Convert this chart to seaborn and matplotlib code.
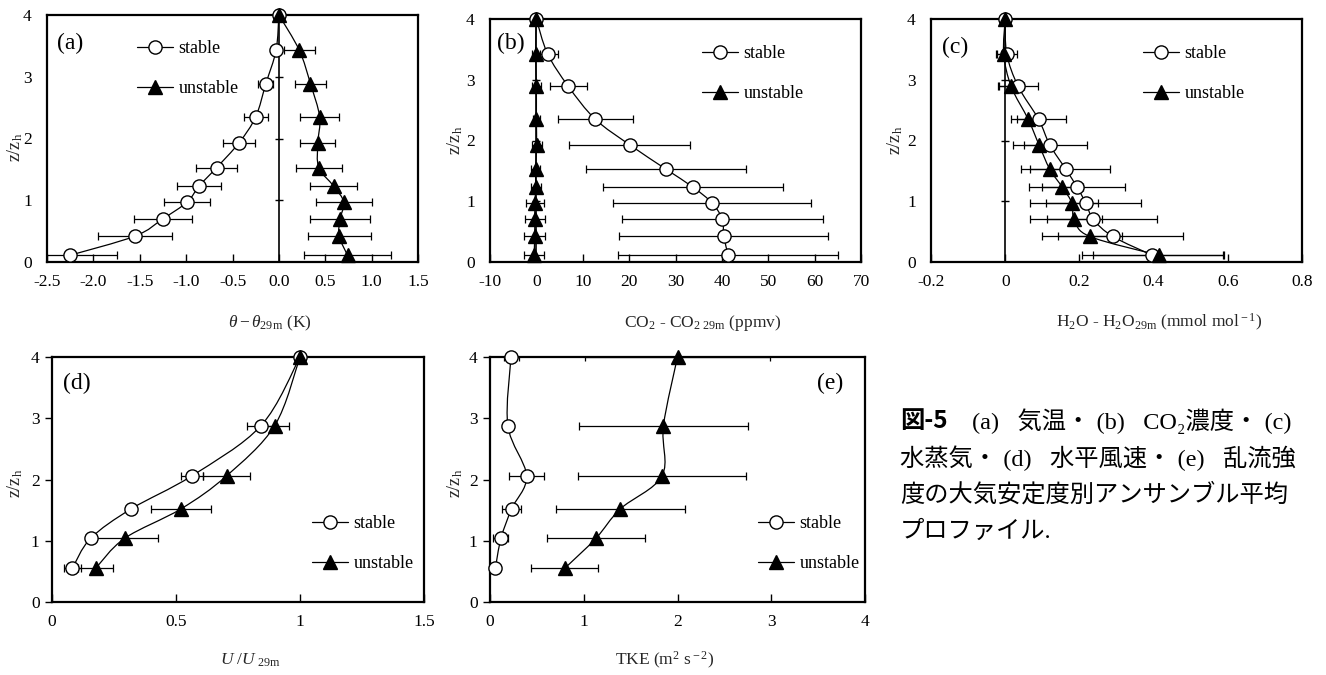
import matplotlib
matplotlib.use("Agg")
import matplotlib.pyplot as plt
from matplotlib.lines import Line2D
from matplotlib.path import Path
from matplotlib.patches import PathPatch
import seaborn as sns

# ---------------------------------------------------------------------------
# Ensemble-mean profiles by stability class (z/zh on the vertical axis)
# ---------------------------------------------------------------------------
z_tower = [4.0, 3.43, 2.89, 2.35, 1.93, 1.53, 1.23, 0.97, 0.70, 0.42, 0.11]
z_sonic = [4.0, 2.88, 2.06, 1.52, 1.04, 0.55]

# (a) potential temperature difference (K)
theta_stable = [0.0, -0.03, -0.14, -0.25, -0.43, -0.67, -0.86, -0.99, -1.25, -1.55, -2.25]
theta_stable_sd = [0.0, 0.04, 0.08, 0.13, 0.17, 0.22, 0.24, 0.25, 0.31, 0.40, 0.51]
theta_unstable = [0.0, 0.22, 0.34, 0.44, 0.42, 0.43, 0.59, 0.70, 0.66, 0.65, 0.74]
theta_unstable_sd = [0.0, 0.17, 0.17, 0.21, 0.19, 0.25, 0.255, 0.30, 0.325, 0.34, 0.47]

# (b) CO2 difference (ppmv)
co2_stable = [0.0, 2.4, 6.9, 12.7, 20.1, 27.9, 33.8, 37.9, 40.1, 40.4, 41.4]
co2_stable_sd = [0.0, 2.2, 3.95, 8.1, 13.1, 17.2, 19.4, 21.4, 21.7, 22.5, 23.7]
co2_unstable = [0.0, -0.15, 0.0, 0.0, 0.05, -0.15, -0.15, -0.3, -0.35, -0.35, -0.5]
co2_unstable_sd = [0.0, 0.9, 1.0, 0.8, 1.1, 1.0, 1.1, 2.0, 2.2, 2.3, 2.2]

# (c) H2O difference (mmol mol-1)
h2o_stable = [0.0, 0.004, 0.035, 0.09, 0.12, 0.163, 0.194, 0.217, 0.238, 0.29, 0.397]
h2o_stable_sd = [0.0, 0.027, 0.053, 0.074, 0.10, 0.12, 0.13, 0.15, 0.17, 0.19, 0.19]
h2o_unstable = [0.0, -0.004, 0.016, 0.062, 0.091, 0.12, 0.154, 0.18, 0.186, 0.228, 0.414]
h2o_unstable_sd = [0.0, 0.02, 0.035, 0.031, 0.041, 0.053, 0.055, 0.07, 0.074, 0.086, 0.177]

# (d) normalised horizontal wind speed
u_stable = [1.0, 0.843, 0.564, 0.319, 0.156, 0.082]
u_stable_sd = [0.0, 0.058, 0.045, 0.02, 0.02, 0.035]
u_unstable = [1.0, 0.898, 0.704, 0.52, 0.293, 0.176]
u_unstable_sd = [0.0, 0.058, 0.094, 0.12, 0.135, 0.07]

# (e) turbulent kinetic energy (m2 s-2)
tke_stable = [0.224, 0.19, 0.39, 0.23, 0.117, 0.057]
tke_stable_sd = [0.08, 0.05, 0.19, 0.10, 0.08, 0.04]
tke_unstable = [2.0, 1.85, 1.835, 1.39, 1.13, 0.797]
tke_unstable_sd = [0.99, 0.90, 0.90, 0.69, 0.52, 0.36]

z_ticks = [0, 1, 2, 3, 4]
z_ticklabels = ["0", "1", "2", "3", "4"]
theta_ticks = [-2.5, -2.0, -1.5, -1.0, -0.5, 0.0, 0.5, 1.0, 1.5]
theta_ticklabels = ["-2.5", "-2.0", "-1.5", "-1.0", "-0.5", "0.0", "0.5", "1.0", "1.5"]
co2_ticks = [-10, 0, 10, 20, 30, 40, 50, 60, 70]
co2_ticklabels = ["-10", "0", "10", "20", "30", "40", "50", "60", "70"]
h2o_ticks = [-0.2, 0.0, 0.2, 0.4, 0.6, 0.8]
h2o_ticklabels = ["-0.2", "0", "0.2", "0.4", "0.6", "0.8"]
u_ticks = [0, 0.5, 1.0, 1.5]
u_ticklabels = ["0", "0.5", "1", "1.5"]
tke_ticks = [0, 1, 2, 3, 4]
tke_ticklabels = ["0", "1", "2", "3", "4"]

caption_head = "図-5"
caption_first = "(a)   気温・ (b)   CO₂濃度・ (c)"
caption_lines = [
    "水蒸気・ (d)   水平風速・ (e)   乱流強",
    "度の大気安定度別アンサンブル平均",
    "プロファイル.",
]

sns.set_theme(style="white")
plt.rcParams.update({
    "font.family": ["Liberation Serif", "Noto Sans CJK JP"],
    "mathtext.fontset": "custom",
    "mathtext.rm": "Liberation Serif",
    "mathtext.it": "Liberation Serif:italic",
    "mathtext.bf": "Liberation Serif:bold",
    "axes.unicode_minus": False,
    "axes.edgecolor": "black",
    "xtick.color": "black",
    "ytick.color": "black",
    "text.color": "black",
})

W, H = 1326, 675
fig = plt.figure(figsize=(W / 100, H / 100), dpi=100)
fig.patch.set_facecolor("white")

MARKERS = {
    "stable": dict(marker="o", markersize=9.5, markerfacecolor="white"),
    "unstable": dict(marker="^", markersize=10, markerfacecolor="black"),
}


def box(l, t, r, b):
    return fig.add_axes([l / W, 1 - b / H, (r - l) / W, (b - t) / H])


def smooth_curve(ax, x, z, w_px, h_px):
    """Spreadsheet-style smoothed connector: cubic Bezier segments through
    the profile points, shaped in screen space and mapped back to data."""
    x0, x1 = ax.get_xlim()
    y0, y1 = ax.get_ylim()
    sx, sy = w_px / (x1 - x0), h_px / (y1 - y0)
    pts = [((xi - x0) * sx, (zi - y0) * sy) for xi, zi in zip(x, z)]
    n = len(pts)
    verts, codes = [pts[0]], [Path.MOVETO]
    for i in range(n - 1):
        pa = pts[i - 1] if i > 0 else pts[i]
        p1, p2 = pts[i], pts[i + 1]
        pb = pts[i + 2] if i + 2 < n else pts[i + 1]
        c1 = (p1[0] + (p2[0] - pa[0]) / 6, p1[1] + (p2[1] - pa[1]) / 6)
        c2 = (p2[0] - (pb[0] - p1[0]) / 6, p2[1] - (pb[1] - p1[1]) / 6)
        verts += [c1, c2, p2]
        codes += [Path.CURVE4] * 3
    verts = [(vx / sx + x0, vy / sy + y0) for vx, vy in verts]
    ax.add_patch(PathPatch(Path(verts, codes), fill=False, ec="black",
                           lw=0.9, zorder=2.5))


def draw_profile(ax, x, err, z, kind, w_px, h_px):
    ax.errorbar(x, z, xerr=err, fmt="none", ecolor="black", elinewidth=0.9,
                capsize=3, capthick=0.9, zorder=2)
    smooth_curve(ax, x, z, w_px, h_px)
    sns.lineplot(x=x, y=z, sort=False, estimator=None, color="black",
                 linestyle="none", markeredgecolor="black",
                 markeredgewidth=1.0, ax=ax, zorder=3, clip_on=False,
                 legend=False, **MARKERS[kind])


def setup(ax, box_px, xt, xtl, zero_axis, tag, tag_px, leg_px,
          xlabel, xlabel_px, ylabel_px):
    l, t, r, b = box_px
    w, h = r - l, b - t
    ax.set_xticks(xt)
    ax.set_xticklabels(xtl, fontsize=12.5)
    ax.set_yticks(z_ticks)
    ax.set_yticklabels(z_ticklabels, fontsize=12.5)
    for s in ax.spines.values():
        s.set_linewidth(1.6)
        s.set_color("black")
    ax.tick_params(axis="x", direction="in", length=6, width=1, pad=9,
                   bottom=True, top=False)
    if zero_axis:
        ax.tick_params(axis="y", length=0, pad=11)
        ax.axvline(0, color="black", lw=1.2, zorder=1)
        ax.plot([0] * len(z_ticks), z_ticks, ls="none", marker="_",
                markersize=6, mew=1, color="black", zorder=1)
    else:
        ax.tick_params(axis="y", direction="out", length=5, width=1, pad=4,
                       left=True)
    ax.set_xlabel(xlabel, fontsize=12.5)
    ax.xaxis.set_label_coords((xlabel_px[0] - l) / w, -(xlabel_px[1] - b) / h)
    ax.xaxis.label.set_va("center")
    ax.set_ylabel(r"z/z$_{\rm h}$", fontsize=13)
    ax.yaxis.set_label_coords((ylabel_px[0] - l) / w, 1 - (ylabel_px[1] - t) / h)
    ax.yaxis.label.set_va("center")
    ax.text((tag_px[0] - l) / w, 1 - (tag_px[1] - t) / h, tag,
            transform=ax.transAxes, fontsize=17, ha="left", va="center")
    handles = [Line2D([], [], color="black", lw=0.9, markeredgecolor="black",
                      markeredgewidth=1.0, **MARKERS[k])
               for k in ("stable", "unstable")]
    ax.legend(handles, ["stable", "unstable"], loc="upper left",
              bbox_to_anchor=((leg_px[0] - l) / w, 1 - (leg_px[1] - t) / h),
              frameon=False, fontsize=13, handlelength=2.0,
              handletextpad=0.3, labelspacing=1.27, borderpad=0,
              borderaxespad=0, numpoints=1)


panels = [
    dict(box_px=(47, 15, 418, 262), xlim=(-2.5, 1.5), xt=theta_ticks,
         xtl=theta_ticklabels, zero_axis=True, tag="(a)", tag_px=(57, 43),
         leg_px=(137, 40),
         xlabel=r"$\theta - \theta_{\rm 29m}$ (K)", xlabel_px=(270, 323),
         ylabel_px=(15, 147),
         series=[(theta_stable, theta_stable_sd, z_tower, "stable"),
                 (theta_unstable, theta_unstable_sd, z_tower, "unstable")]),
    dict(box_px=(490, 19, 861, 262), xlim=(-10, 70), xt=co2_ticks,
         xtl=co2_ticklabels, zero_axis=True, tag="(b)", tag_px=(497, 43),
         leg_px=(702, 45),
         xlabel=r"CO$_2$ - CO$_{\rm 2\ 29m}$ (ppmv)", xlabel_px=(703, 323),
         ylabel_px=(455, 140),
         series=[(co2_stable, co2_stable_sd, z_tower, "stable"),
                 (co2_unstable, co2_unstable_sd, z_tower, "unstable")]),
    dict(box_px=(931, 19, 1302, 262), xlim=(-0.2, 0.8), xt=h2o_ticks,
         xtl=h2o_ticklabels, zero_axis=True, tag="(c)", tag_px=(942, 47),
         leg_px=(1143, 45),
         xlabel=r"H$_2$O - H$_2$O$_{\rm 29m}$ (mmol mol$^{\rm -1}$)",
         xlabel_px=(1159, 322), ylabel_px=(895, 140),
         series=[(h2o_stable, h2o_stable_sd, z_tower, "stable"),
                 (h2o_unstable, h2o_unstable_sd, z_tower, "unstable")]),
    dict(box_px=(52, 357, 424, 602), xlim=(0, 1.5), xt=u_ticks,
         xtl=u_ticklabels, zero_axis=False, tag="(d)", tag_px=(63, 383),
         leg_px=(312, 515),
         xlabel=r"$U\ /U_{\rm\ 29m}$", xlabel_px=(250, 660),
         ylabel_px=(15, 483),
         series=[(u_stable, u_stable_sd, z_sonic, "stable"),
                 (u_unstable, u_unstable_sd, z_sonic, "unstable")]),
    dict(box_px=(490, 357, 865, 602), xlim=(0, 4), xt=tke_ticks,
         xtl=tke_ticklabels, zero_axis=False, tag="(e)", tag_px=(817, 383),
         leg_px=(758, 515),
         xlabel=r"TKE (m$^{\rm 2}$ s$^{\rm -2}$)", xlabel_px=(665, 660),
         ylabel_px=(455, 483),
         series=[(tke_stable, tke_stable_sd, z_sonic, "stable"),
                 (tke_unstable, tke_unstable_sd, z_sonic, "unstable")]),
]

for p in panels:
    l, t, r, b = p["box_px"]
    ax = box(l, t, r, b)
    ax.set_facecolor("white")
    ax.set_xlim(*p["xlim"])
    ax.set_ylim(0, 4)
    for x, err, z, kind in p["series"]:
        draw_profile(ax, x, err, z, kind, r - l, b - t)
    ax.set_xlim(*p["xlim"])
    ax.set_ylim(0, 4)
    setup(ax, p["box_px"], p["xt"], p["xtl"], p["zero_axis"],
          p["tag"], p["tag_px"], p["leg_px"], p["xlabel"], p["xlabel_px"],
          p["ylabel_px"])

# Figure caption
cap_x = 900
cap_size = 17.5
cap_font = ["Liberation Serif", "Noto Sans CJK JP"]
fig.text(cap_x / W, 1 - 421 / H, caption_head, fontsize=cap_size,
         fontweight="bold", family=["Noto Sans CJK JP"], ha="left",
         va="center")
fig.text(972 / W, 1 - 421 / H, caption_first, fontsize=cap_size,
         family=cap_font, ha="left", va="center")
for i, line in enumerate(caption_lines):
    fig.text(cap_x / W, 1 - (458 + 37 * i) / H, line, fontsize=cap_size,
             family=cap_font, ha="left", va="center")

fig.savefig("out.png", dpi=100, facecolor="white")
